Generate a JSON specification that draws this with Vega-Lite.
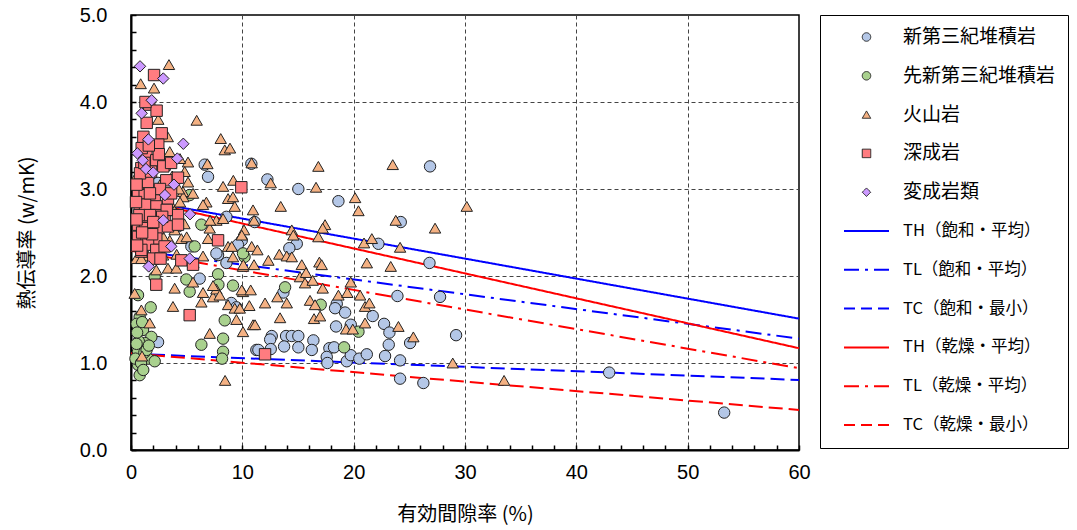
{
"$schema": "https://vega.github.io/schema/vega-lite/v6.json",
"autosize": {"type": "none"},
"width": 668, "height": 435,
"padding": {"left": 131, "top": 15, "right": 278, "bottom": 80},
"background": "white",
"config": {"view": {"stroke": "black", "strokeWidth": 1.5}},
"datasets": {
"lines": [
{"s":"TH（飽和・平均）","x":0,"y":2.89},{"s":"TH（飽和・平均）","x":60,"y":1.51},
{"s":"TL（飽和・平均）","x":0,"y":2.30},{"s":"TL（飽和・平均）","x":60,"y":1.28},
{"s":"TC（飽和・最小）","x":0,"y":1.106},{"s":"TC（飽和・最小）","x":60,"y":0.805},
{"s":"TH（乾燥・平均）","x":0,"y":2.89},{"s":"TH（乾燥・平均）","x":60,"y":1.17},
{"s":"TL（乾燥・平均）","x":0,"y":2.29},{"s":"TL（乾燥・平均）","x":60,"y":0.94},
{"s":"TC（乾燥・最小）","x":0,"y":1.112},{"s":"TC（乾燥・最小）","x":60,"y":0.46}
],
"pts": [
{"s":"新第三紀堆積岩","x":2.43,"y":1.24},{"s":"新第三紀堆積岩","x":6.17,"y":1.97},{"s":"新第三紀堆積岩","x":7.82,"y":2.24},{"s":"新第三紀堆積岩","x":8.57,"y":2.15},{"s":"新第三紀堆積岩","x":9.01,"y":1.69},{"s":"新第三紀堆積岩","x":9.47,"y":1.64},{"s":"新第三紀堆積岩","x":11.26,"y":1.15},{"s":"新第三紀堆積岩","x":6.62,"y":3.28},{"s":"新第三紀堆積岩","x":10.81,"y":3.29},{"s":"新第三紀堆積岩","x":6.92,"y":3.14},{"s":"新第三紀堆積岩","x":8.57,"y":2.68},{"s":"新第三紀堆積岩","x":11.11,"y":2.62},{"s":"新第三紀堆積岩","x":5.42,"y":2.34},{"s":"新第三紀堆積岩","x":7.67,"y":2.26},{"s":"新第三紀堆積岩","x":4.22,"y":2.57},{"s":"新第三紀堆積岩","x":2.43,"y":3.07},{"s":"新第三紀堆積岩","x":12.25,"y":3.11},{"s":"新第三紀堆積岩","x":15.03,"y":3.0},{"s":"新第三紀堆積岩","x":18.63,"y":2.86},{"s":"新第三紀堆積岩","x":26.86,"y":3.26},{"s":"新第三紀堆積岩","x":24.23,"y":2.62},{"s":"新第三紀堆積岩","x":22.22,"y":2.37},{"s":"新第三紀堆積岩","x":14.89,"y":2.37},{"s":"新第三紀堆積岩","x":14.22,"y":2.32},{"s":"新第三紀堆積岩","x":26.81,"y":2.15},{"s":"新第三紀堆積岩","x":9.95,"y":2.41},{"s":"新第三紀堆積岩","x":9.6,"y":2.36},{"s":"新第三紀堆積岩","x":23.93,"y":1.77},{"s":"新第三紀堆積岩","x":27.76,"y":1.76},{"s":"新第三紀堆積岩","x":13.69,"y":1.81},{"s":"新第三紀堆積岩","x":18.48,"y":1.68},{"s":"新第三紀堆積岩","x":18.33,"y":1.63},{"s":"新第三紀堆積岩","x":19.23,"y":1.58},{"s":"新第三紀堆積岩","x":21.71,"y":1.54},{"s":"新第三紀堆積岩","x":22.73,"y":1.45},{"s":"新第三紀堆積岩","x":23.21,"y":1.35},{"s":"新第三紀堆積岩","x":18.42,"y":1.42},{"s":"新第三紀堆積岩","x":19.74,"y":1.44},{"s":"新第三紀堆積岩","x":23.15,"y":1.21},{"s":"新第三紀堆積岩","x":25.07,"y":1.23},{"s":"新第三紀堆積岩","x":29.2,"y":1.32},{"s":"新第三紀堆積岩","x":12.64,"y":1.31},{"s":"新第三紀堆積岩","x":13.93,"y":1.31},{"s":"新第三紀堆積岩","x":14.44,"y":1.31},{"s":"新第三紀堆積岩","x":15.03,"y":1.31},{"s":"新第三紀堆積岩","x":16.38,"y":1.26},{"s":"新第三紀堆積岩","x":12.5,"y":1.27},{"s":"新第三紀堆積岩","x":13.75,"y":1.19},{"s":"新第三紀堆積岩","x":15.03,"y":1.18},{"s":"新第三紀堆積岩","x":16.24,"y":1.15},{"s":"新第三紀堆積岩","x":11.44,"y":1.15},{"s":"新第三紀堆積岩","x":12.55,"y":1.16},{"s":"新第三紀堆積岩","x":17.82,"y":1.17},{"s":"新第三紀堆積岩","x":18.24,"y":1.18},{"s":"新第三紀堆積岩","x":17.58,"y":1.07},{"s":"新第三紀堆積岩","x":17.64,"y":1.0},{"s":"新第三紀堆積岩","x":19.38,"y":1.02},{"s":"新第三紀堆積岩","x":19.74,"y":1.09},{"s":"新第三紀堆積岩","x":20.51,"y":1.05},{"s":"新第三紀堆積岩","x":21.18,"y":1.1},{"s":"新第三紀堆積岩","x":22.82,"y":1.08},{"s":"新第三紀堆積岩","x":24.17,"y":1.03},{"s":"新第三紀堆積岩","x":24.17,"y":0.82},{"s":"新第三紀堆積岩","x":26.26,"y":0.77},{"s":"新第三紀堆積岩","x":42.95,"y":0.89},{"s":"新第三紀堆積岩","x":53.28,"y":0.43},
{"s":"先新第三紀堆積岩","x":0.63,"y":1.78},{"s":"先新第三紀堆積岩","x":1.77,"y":1.64},{"s":"先新第三紀堆積岩","x":0.78,"y":1.53},{"s":"先新第三紀堆積岩","x":1.08,"y":1.38},{"s":"先新第三紀堆積岩","x":1.83,"y":1.3},{"s":"先新第三紀堆積岩","x":0.93,"y":1.19},{"s":"先新第三紀堆積岩","x":0.63,"y":1.13},{"s":"先新第三紀堆積岩","x":1.53,"y":1.05},{"s":"先新第三紀堆積岩","x":2.13,"y":1.02},{"s":"先新第三紀堆積岩","x":0.63,"y":0.98},{"s":"先新第三紀堆積岩","x":0.78,"y":0.86},{"s":"先新第三紀堆積岩","x":0.4,"y":1.05},{"s":"先新第三紀堆積岩","x":5.27,"y":1.82},{"s":"先新第三紀堆積岩","x":4.97,"y":1.96},{"s":"先新第三紀堆積岩","x":7.82,"y":2.02},{"s":"先新第三紀堆積岩","x":9.16,"y":1.89},{"s":"先新第三紀堆積岩","x":6.32,"y":1.21},{"s":"先新第三紀堆積岩","x":8.27,"y":1.28},{"s":"先新第三紀堆積岩","x":8.42,"y":1.49},{"s":"先新第三紀堆積岩","x":8.27,"y":1.13},{"s":"先新第三紀堆積岩","x":8.18,"y":1.05},{"s":"先新第三紀堆積岩","x":10.2,"y":2.22},{"s":"先新第三紀堆積岩","x":2.13,"y":1.99},{"s":"先新第三紀堆積岩","x":1.23,"y":1.23},{"s":"先新第三紀堆積岩","x":5.27,"y":2.93},{"s":"先新第三紀堆積岩","x":6.32,"y":2.59},{"s":"先新第三紀堆積岩","x":5.72,"y":2.34},{"s":"先新第三紀堆積岩","x":10.06,"y":2.26},{"s":"先新第三紀堆積岩","x":13.84,"y":1.87},{"s":"先新第三紀堆積岩","x":17.04,"y":1.67},{"s":"先新第三紀堆積岩","x":20.43,"y":1.36},{"s":"先新第三紀堆積岩","x":19.14,"y":1.18},{"s":"先新第三紀堆積岩","x":0.5,"y":1.45},{"s":"先新第三紀堆積岩","x":1.0,"y":1.47},{"s":"先新第三紀堆積岩","x":0.7,"y":1.25},{"s":"先新第三紀堆積岩","x":1.2,"y":1.12},{"s":"先新第三紀堆積岩","x":0.9,"y":1.0},{"s":"先新第三紀堆積岩","x":1.4,"y":1.15},{"s":"先新第三紀堆積岩","x":0.55,"y":1.35},{"s":"先新第三紀堆積岩","x":1.1,"y":0.92},{"s":"先新第三紀堆積岩","x":0.5,"y":1.22},{"s":"先新第三紀堆積岩","x":1.6,"y":1.2},{"s":"先新第三紀堆積岩","x":7.85,"y":1.9},
{"s":"火山岩","x":0.33,"y":1.8},{"s":"火山岩","x":0.93,"y":1.61},{"s":"火山岩","x":1.68,"y":1.46},{"s":"火山岩","x":3.77,"y":1.65},{"s":"火山岩","x":7.07,"y":1.34},{"s":"火山岩","x":0.99,"y":1.08},{"s":"火山岩","x":3.32,"y":2.09},{"s":"火山岩","x":4.07,"y":2.09},{"s":"火山岩","x":2.27,"y":2.07},{"s":"火山岩","x":6.47,"y":2.23},{"s":"火山岩","x":3.92,"y":1.86},{"s":"火山岩","x":5.57,"y":1.93},{"s":"火山岩","x":6.47,"y":1.81},{"s":"火山岩","x":6.32,"y":1.7},{"s":"火山岩","x":7.37,"y":1.76},{"s":"火山岩","x":7.67,"y":1.85},{"s":"火山岩","x":7.97,"y":1.78},{"s":"火山岩","x":7.37,"y":1.89},{"s":"火山岩","x":8.72,"y":1.67},{"s":"火山岩","x":9.32,"y":1.63},{"s":"火山岩","x":9.77,"y":1.63},{"s":"火山岩","x":9.47,"y":1.5},{"s":"火山岩","x":10.06,"y":1.36},{"s":"火山岩","x":10.06,"y":1.82},{"s":"火山岩","x":10.96,"y":1.44},{"s":"火山岩","x":10.06,"y":2.11},{"s":"火山岩","x":9.16,"y":2.22},{"s":"火山岩","x":0.48,"y":2.2},{"s":"火山岩","x":1.53,"y":2.23},
{"s":"火山岩","x":3.48,"y":3.43},{"s":"火山岩","x":5.12,"y":3.31},{"s":"火山岩","x":4.82,"y":3.2},{"s":"火山岩","x":5.12,"y":3.08},{"s":"火山岩","x":4.67,"y":2.97},{"s":"火山岩","x":5.57,"y":2.95},{"s":"火山岩","x":8.27,"y":3.03},{"s":"火山岩","x":8.72,"y":2.89},{"s":"火山岩","x":9.16,"y":2.91},{"s":"火山岩","x":6.77,"y":2.85},{"s":"火山岩","x":6.47,"y":2.82},{"s":"火山岩","x":9.32,"y":2.8},{"s":"火山岩","x":10.96,"y":2.76},{"s":"火山岩","x":8.42,"y":3.45},{"s":"火山岩","x":7.67,"y":2.64},{"s":"火山岩","x":8.27,"y":2.66},{"s":"火山岩","x":6.92,"y":2.43},{"s":"火山岩","x":7.07,"y":2.55},{"s":"火山岩","x":8.72,"y":2.34},{"s":"火山岩","x":3.32,"y":2.76},{"s":"火山岩","x":3.62,"y":2.82},{"s":"火山岩","x":3.92,"y":2.53},{"s":"火山岩","x":4.52,"y":2.43},{"s":"火山岩","x":3.48,"y":2.41},{"s":"火山岩","x":0.93,"y":2.2},{"s":"火山岩","x":2.88,"y":2.24},
{"s":"火山岩","x":3.41,"y":4.43},{"s":"火山岩","x":0.87,"y":4.21},{"s":"火山岩","x":2.07,"y":4.16},{"s":"火山岩","x":2.45,"y":3.8},{"s":"火山岩","x":5.9,"y":3.79},{"s":"火山岩","x":8.06,"y":3.58},{"s":"火山岩","x":8.89,"y":3.47},{"s":"火山岩","x":6.86,"y":3.29},{"s":"火山岩","x":9.19,"y":3.1},{"s":"火山岩","x":4.7,"y":2.91},{"s":"火山岩","x":4.3,"y":3.0},{"s":"火山岩","x":0.45,"y":3.14},{"s":"火山岩","x":7.1,"y":2.64},
{"s":"火山岩","x":10.84,"y":3.3},{"s":"火山岩","x":16.83,"y":3.26},{"s":"火山岩","x":23.51,"y":3.28},{"s":"火山岩","x":12.55,"y":3.07},{"s":"火山岩","x":16.62,"y":3.02},{"s":"火山岩","x":20.13,"y":2.9},{"s":"火山岩","x":13.45,"y":2.8},{"s":"火山岩","x":20.43,"y":2.75},{"s":"火山岩","x":30.16,"y":2.8},{"s":"火山岩","x":11.05,"y":2.64},{"s":"火山岩","x":23.78,"y":2.64},{"s":"火山岩","x":27.31,"y":2.55},{"s":"火山岩","x":10.15,"y":2.53},{"s":"火山岩","x":9.95,"y":2.47},{"s":"火山岩","x":17.43,"y":2.59},{"s":"火山岩","x":17.22,"y":2.55},{"s":"火山岩","x":14.44,"y":2.53},{"s":"火山岩","x":14.58,"y":2.47},{"s":"火山岩","x":16.83,"y":2.45},{"s":"火山岩","x":20.93,"y":2.38},{"s":"火山岩","x":21.63,"y":2.43},{"s":"火山岩","x":24.17,"y":2.33},{"s":"火山岩","x":9.05,"y":2.34},{"s":"火山岩","x":10.84,"y":2.34},{"s":"火山岩","x":11.35,"y":2.3},{"s":"火山岩","x":13.32,"y":2.25},{"s":"火山岩","x":13.99,"y":2.23},{"s":"火山岩","x":14.44,"y":2.22},{"s":"火山岩","x":12.34,"y":2.18},{"s":"火山岩","x":10.09,"y":2.13},{"s":"火山岩","x":11.05,"y":2.13},{"s":"火山岩","x":15.34,"y":2.13},{"s":"火山岩","x":16.92,"y":2.16},{"s":"火山岩","x":17.13,"y":2.13},{"s":"火山岩","x":21.18,"y":2.15},{"s":"火山岩","x":23.33,"y":2.11},{"s":"火山岩","x":15.18,"y":1.99},{"s":"火山岩","x":15.72,"y":2.04},{"s":"火山岩","x":15.63,"y":1.92},{"s":"火山岩","x":16.32,"y":1.95},{"s":"火山岩","x":17.22,"y":1.86},{"s":"火山岩","x":19.74,"y":1.93},{"s":"火山岩","x":9.95,"y":1.84},{"s":"火山岩","x":10.75,"y":1.84},{"s":"火山岩","x":12.04,"y":1.69},{"s":"火山岩","x":13.15,"y":1.76},{"s":"火山岩","x":13.99,"y":1.69},{"s":"火山岩","x":10.63,"y":1.66},{"s":"火山岩","x":16.08,"y":1.72},{"s":"火山岩","x":16.53,"y":1.67},{"s":"火山岩","x":18.63,"y":1.78},{"s":"火山岩","x":19.43,"y":1.81},{"s":"火山岩","x":20.58,"y":1.78},{"s":"火山岩","x":21.02,"y":1.65},{"s":"火山岩","x":21.41,"y":1.69},{"s":"火山岩","x":13.39,"y":1.52},{"s":"火山岩","x":16.44,"y":1.51},{"s":"火山岩","x":16.98,"y":1.54},{"s":"火山岩","x":11.14,"y":1.44},{"s":"火山岩","x":19.32,"y":1.39},{"s":"火山岩","x":19.92,"y":1.39},{"s":"火山岩","x":21.02,"y":1.46},{"s":"火山岩","x":24.02,"y":1.42},{"s":"火山岩","x":25.36,"y":1.3},{"s":"火山岩","x":28.9,"y":1.0},
{"s":"火山岩","x":33.51,"y":0.8},{"s":"火山岩","x":8.45,"y":0.8},
{"s":"火山岩","x":1.9,"y":2.95},{"s":"火山岩","x":2.6,"y":3.05},{"s":"火山岩","x":3.9,"y":2.75},{"s":"火山岩","x":4.1,"y":2.25},{"s":"火山岩","x":1.2,"y":2.6},{"s":"火山岩","x":4.8,"y":2.6},{"s":"火山岩","x":3.7,"y":3.15},{"s":"火山岩","x":2.9,"y":2.45},{"s":"火山岩","x":4.4,"y":2.85},{"s":"火山岩","x":5.6,"y":2.15},{"s":"火山岩","x":5.0,"y":2.45},{"s":"火山岩","x":4.4,"y":3.35},{"s":"火山岩","x":3.3,"y":3.6},
{"s":"深成岩","x":0.93,"y":2.28},{"s":"深成岩","x":2.36,"y":2.26},{"s":"深成岩","x":4.52,"y":2.18},{"s":"深成岩","x":5.57,"y":2.13},{"s":"深成岩","x":2.27,"y":1.9},{"s":"深成岩","x":5.27,"y":1.55},
{"s":"深成岩","x":1.38,"y":3.39},{"s":"深成岩","x":2.27,"y":3.33},{"s":"深成岩","x":3.02,"y":3.28},{"s":"深成岩","x":0.93,"y":3.24},{"s":"深成岩","x":3.17,"y":3.1},{"s":"深成岩","x":4.22,"y":3.13},{"s":"深成岩","x":1.53,"y":3.08},{"s":"深成岩","x":0.63,"y":2.95},{"s":"深成岩","x":1.23,"y":2.93},{"s":"深成岩","x":2.13,"y":2.87},{"s":"深成岩","x":3.32,"y":2.89},{"s":"深成岩","x":0.78,"y":2.82},{"s":"深成岩","x":1.38,"y":2.78},{"s":"深成岩","x":2.27,"y":2.8},{"s":"深成岩","x":1.38,"y":2.68},{"s":"深成岩","x":2.27,"y":2.7},{"s":"深成岩","x":3.02,"y":2.66},{"s":"深成岩","x":4.22,"y":2.7},{"s":"深成岩","x":0.63,"y":2.59},{"s":"深成岩","x":1.53,"y":2.57},{"s":"深成岩","x":2.43,"y":2.55},{"s":"深成岩","x":3.32,"y":2.57},{"s":"深成岩","x":4.22,"y":2.59},{"s":"深成岩","x":0.63,"y":2.45},{"s":"深成岩","x":1.38,"y":2.41},{"s":"深成岩","x":2.27,"y":2.43},{"s":"深成岩","x":1.53,"y":2.36},{"s":"深成岩","x":2.27,"y":2.3},{"s":"深成岩","x":0.93,"y":2.3},{"s":"深成岩","x":3.02,"y":2.34},{"s":"深成岩","x":9.91,"y":3.02},{"s":"深成岩","x":7.82,"y":2.41},
{"s":"深成岩","x":2.07,"y":4.31},{"s":"深成岩","x":1.64,"y":3.97},{"s":"深成岩","x":1.41,"y":3.76},{"s":"深成岩","x":2.76,"y":3.64},{"s":"深成岩","x":1.11,"y":3.6},{"s":"深成岩","x":2.45,"y":3.51},{"s":"深成岩","x":0.96,"y":3.47},{"s":"深成岩","x":2.9,"y":3.26},{"s":"深成岩","x":0.81,"y":3.18},{"s":"深成岩","x":1.26,"y":2.82},{"s":"深成岩","x":0.75,"y":2.7},{"s":"深成岩","x":1.71,"y":2.7},{"s":"深成岩","x":3.21,"y":2.76},{"s":"深成岩","x":1.26,"y":2.55},
{"s":"深成岩","x":12.04,"y":1.1},
{"s":"深成岩","x":0.5,"y":3.05},{"s":"深成岩","x":1.8,"y":3.2},{"s":"深成岩","x":2.6,"y":3.0},{"s":"深成岩","x":0.5,"y":2.65},{"s":"深成岩","x":1.9,"y":2.48},{"s":"深成岩","x":2.8,"y":2.68},{"s":"深成岩","x":0.55,"y":2.35},{"s":"深成岩","x":1.7,"y":2.95},{"s":"深成岩","x":2.5,"y":3.4},{"s":"深成岩","x":1.2,"y":3.3},{"s":"深成岩","x":3.6,"y":2.95},{"s":"深成岩","x":1.0,"y":2.5},{"s":"深成岩","x":2.0,"y":2.62},{"s":"深成岩","x":0.45,"y":2.85},{"s":"深成岩","x":1.6,"y":3.5},{"s":"深成岩","x":2.3,"y":3.9},{"s":"深成岩","x":1.3,"y":4.0},{"s":"深成岩","x":3.6,"y":3.3},{"s":"深成岩","x":2.0,"y":2.2},{"s":"深成岩","x":2.65,"y":2.2},
{"s":"変成岩類","x":0.81,"y":4.41},{"s":"変成岩類","x":2.9,"y":4.27},{"s":"変成岩類","x":1.86,"y":4.02},{"s":"変成岩類","x":0.96,"y":3.87},{"s":"変成岩類","x":1.56,"y":3.57},{"s":"変成岩類","x":4.7,"y":3.52},{"s":"変成岩類","x":0.57,"y":3.41},{"s":"変成岩類","x":1.05,"y":3.33},{"s":"変成岩類","x":4.16,"y":3.35},{"s":"変成岩類","x":1.35,"y":3.23},{"s":"変成岩類","x":2.0,"y":3.19},{"s":"変成岩類","x":3.86,"y":3.05},{"s":"変成岩類","x":3.05,"y":2.93},{"s":"変成岩類","x":5.3,"y":2.71},{"s":"変成岩類","x":2.9,"y":2.64},{"s":"変成岩類","x":3.62,"y":2.34},{"s":"変成岩類","x":1.59,"y":2.11},{"s":"変成岩類","x":5.27,"y":2.2}
]
},
"encoding": {
"x": {"field": "x", "type": "quantitative", "scale": {"domain": [0, 60], "nice": false},
  "axis": {"title": "有効間隙率 (%)", "values": [0,2,4,6,8,10,12,14,16,18,20,22,24,26,28,30,32,34,36,38,40,42,44,46,48,50,52,54,56,58,60],
    "labelExpr": "datum.value % 10 === 0 ? datum.label : ''", "format": "d",
    "grid": true, "gridOpacity": {"condition": {"test": "datum.value % 10 === 0 && datum.value > 0 && datum.value < 60", "value": 1}, "value": 0},
    "gridDash": [4, 3], "gridColor": "#444", "gridWidth": 1,
    "tickSize": -5, "tickColor": "black", "tickWidth": 1.5, "domainColor": "black", "domainWidth": 2,
    "labelFont": "Liberation Sans", "labelFontSize": 20, "labelColor": "black", "labelPadding": 17, "labelFlush": false, "labelOverlap": false,
    "titleFont": "Noto Sans CJK JP", "titleFontSize": 20, "titleFontWeight": "normal", "titleColor": "black", "titlePadding": 22}},
"y": {"field": "y", "type": "quantitative", "scale": {"domain": [0, 5], "nice": false},
  "axis": {"title": "熱伝導率 (w/mK)", "values": [0,0.2,0.4,0.6,0.8,1,1.2,1.4,1.6,1.8,2,2.2,2.4,2.6,2.8,3,3.2,3.4,3.6,3.8,4,4.2,4.4,4.6,4.8,5],
    "labelExpr": "datum.value % 1 === 0 ? format(datum.value, '.1f') : ''",
    "grid": true, "gridOpacity": {"condition": {"test": "datum.value % 1 === 0 && datum.value > 0 && datum.value < 5", "value": 1}, "value": 0},
    "gridDash": [4, 3], "gridColor": "#444", "gridWidth": 1,
    "tickSize": -5, "tickColor": "black", "tickWidth": 1.5, "domainColor": "black", "domainWidth": 2,
    "labelFont": "Liberation Sans", "labelFontSize": 20, "labelColor": "black", "labelPadding": 29, "labelFlush": false, "labelOverlap": false,
    "titleFont": "Noto Sans CJK JP", "titleFontSize": 20, "titleFontWeight": "normal", "titleColor": "black", "titlePadding": 42}}
},
"layer": [
{"data": {"name": "lines"},
 "mark": {"type": "line", "strokeWidth": 2},
 "encoding": {
  "stroke": {"field": "s", "type": "nominal", "legend": null,
    "scale": {"domain": ["TH（飽和・平均）","TL（飽和・平均）","TC（飽和・最小）","TH（乾燥・平均）","TL（乾燥・平均）","TC（乾燥・最小）"],
              "range": ["#0000ff","#0000ff","#0000ff","#ff0000","#ff0000","#ff0000"]}},
  "strokeDash": {"field": "s", "type": "nominal", "legend": null,
    "scale": {"domain": ["TH（飽和・平均）","TL（飽和・平均）","TC（飽和・最小）","TH（乾燥・平均）","TL（乾燥・平均）","TC（乾燥・最小）"],
              "range": [[1,0],[16,6,3,6],[14,6],[1,0],[16,6,3,6],[14,6]]}}
 }},
{"data": {"name": "pts"},
 "mark": {"type": "point", "filled": true, "stroke": "#222222", "strokeWidth": 1, "opacity": 1, "size": 130},
 "encoding": {
  "color": {"field": "s", "type": "nominal",
    "scale": {"domain": ["新第三紀堆積岩","先新第三紀堆積岩","火山岩","深成岩","変成岩類","TH（飽和・平均）","TL（飽和・平均）","TC（飽和・最小）","TH（乾燥・平均）","TL（乾燥・平均）","TC（乾燥・最小）"],
              "range": ["#b4c7e7","#a9d18e","#f4b183","#ff7c80","#cc99ff","#0000ff","#0000ff","#0000ff","#ff0000","#ff0000","#ff0000"]},
    "legend": {"title": null, "orient": "right", "offset": 17, "padding": 12, "strokeColor": "black", "fillColor": "white", "columns": 1, "clipHeight": 20,
      "symbolSize": 2025, "symbolOffset": 25, "labelOffset": 27, "rowPadding": 18.8, "labelFont": "Noto Sans CJK JP", "labelFontSize": 19, "labelColor": "black", "labelLimit": 300,
      "encoding": {
        "symbols": {
          "shape": {"value": {"expr": "datum.index <= 1 ? 'circle' : datum.index == 2 ? 'triangle-up' : datum.index == 3 ? 'square' : datum.index == 4 ? 'diamond' : 'stroke'"}},
          "size": {"value": {"expr": "datum.index >= 5 ? 2025 : 72"}},
          "fill": {"value": {"expr": "datum.index >= 5 ? 'transparent' : scale('color', datum.value)"}},
          "stroke": {"value": {"expr": "datum.index >= 5 ? scale('color', datum.value) : '#222222'"}},
          "strokeWidth": {"value": {"expr": "datum.index >= 5 ? 2 : 1"}},
          "strokeOpacity": {"value": {"expr": "1"}},
          "opacity": {"value": {"expr": "1"}},
          "strokeDash": {"value": {"expr": "datum.index == 6 || datum.index == 9 ? [15,6,3,6] : datum.index == 7 || datum.index == 10 ? [11,6] : [1,0]"}}
        },
        "labels": {"fontSize": {"value": {"expr": "datum.index >= 5 ? 16.5 : 19"}}}
      }}},
  "shape": {"field": "s", "type": "nominal", "legend": null,
    "scale": {"domain": ["新第三紀堆積岩","先新第三紀堆積岩","火山岩","深成岩","変成岩類"], "range": ["circle","circle","triangle-up","square","diamond"]}}
 }}
]
}
